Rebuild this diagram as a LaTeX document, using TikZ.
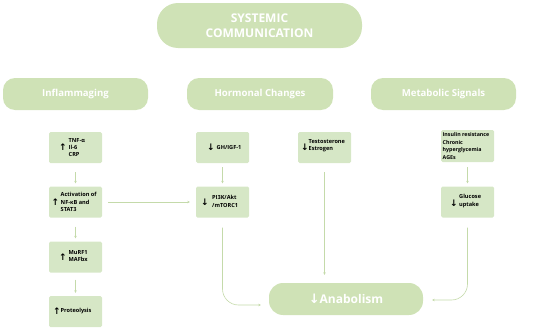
\documentclass[tikz,border=0pt]{standalone}
\usepackage{fontspec}
\setmainfont{Open Sans}
\newfontfamily\arrowfont{DejaVu Sans}
\usetikzlibrary{arrows.meta}
\definecolor{pillgreen}{HTML}{CFE2B6}
\definecolor{boxgreen}{HTML}{D6E7C6}
\definecolor{linegreen}{HTML}{C4DAAA}
\begin{document}
\begin{tikzpicture}[x=1pt,y=-1pt,
  pill/.style={fill=pillgreen, text=white, font=\bfseries, inner sep=0pt},
  sbox/.style={fill=boxgreen, rounded corners=1.5pt, minimum width=53pt, minimum height=31pt, inner sep=0pt},
  stext/.style={anchor=west, align=left, inner sep=0pt, font=\bfseries\fontsize{5.6}{7.4}\selectfont, text=black},
  sarrow/.style={inner sep=0pt, font=\arrowfont\bfseries\fontsize{9}{9}\selectfont, text=black},
  arr/.style={draw=linegreen, line width=0.6pt, -{Stealth[length=2.5pt,width=2.5pt]}}
]
\useasboundingbox (0,0) rectangle (550,332);
% top pill
\node[pill, rounded corners=21pt, minimum width=205pt, minimum height=45pt, align=center, font=\bfseries\fontsize{12}{15}\selectfont] (sys) at (259.5,25.5) {SYSTEMIC\\COMMUNICATION};
% second row
\node[pill, rounded corners=12pt, minimum width=145pt, minimum height=32pt, font=\bfseries\fontsize{9.6}{11}\selectfont] (inf) at (75.5,94) {Inflammaging};
\node[pill, rounded corners=12pt, minimum width=146pt, minimum height=32pt, font=\bfseries\fontsize{9.6}{11}\selectfont] (hor) at (260,94) {Hormonal Changes};
\node[pill, rounded corners=12pt, minimum width=145pt, minimum height=32pt, font=\bfseries\fontsize{9.6}{11}\selectfont] (met) at (443.5,94) {Metabolic Signals};
% boxes
\node[sbox] (tnf) at (75.5,147.5) {};
\node[sbox] (act) at (75.5,202) {};
\node[sbox] (murf) at (75.5,257) {};
\node[sbox] (prot) at (75.5,311.5) {};
\node[sbox] (gh) at (222.5,147.5) {};
\node[sbox] (pi) at (222.5,202) {};
\node[sbox] (tes) at (324.5,147.5) {};
\node[sbox, minimum height=32pt] (ins) at (467.5,146) {};
\node[sbox] (glu) at (467.5,202) {};
% box texts
\node[sarrow] (tnfa) at (63,147.5) {↑};
\node[stext] (tnft) at (68.5,147.5) {TNF-α\\Il-6\\CRP};
\node[sarrow] (acta) at (55.5,202.5) {↑};
\node[stext] (actt) at (60.5,202) {Activation of\\NF-κB and\\STAT3};
\node[sarrow] (murfa) at (63,257.5) {↑};
\node[stext] (murft) at (68.5,256) {MuRF1\\MAFbx};
\node[sarrow] (prota) at (57,311.5) {↑};
\node[stext] (prott) at (60.5,311.5) {Proteolysis};
\node[sarrow] (gha) at (211,147.5) {↓};
\node[stext] (ght) at (216.5,147.5) {GH/IGF-1};
\node[sarrow] (pia) at (205,202.5) {↓};
\node[stext] (pit) at (212,201.5) {PI3K/Akt\\/mTORC1};
\node[sarrow] (tesa) at (305,147.5) {↓};
\node[stext] (test) at (308.5,145.5) {Testosterone\\Estrogen};
\node[stext, font=\bfseries\fontsize{5.3}{7.4}\selectfont] (inst) at (442.5,146) {Insulin resistance\\Chronic\\hyperglycemia\\AGEs};
\node[sarrow] (glua) at (454,203) {↓};
\node[stext] (glut) at (459,201) {Glucose\\uptake};
% anabolism
\node[pill, rounded corners=14pt, minimum width=154pt, minimum height=32pt, font=\bfseries\fontsize{12}{14}\selectfont] (ana) at (346,299) {{\arrowfont\bfseries\fontsize{13}{14}\selectfont ↓}Anabolism};
% connectors
\draw[arr, shorten <=9pt, shorten >=3pt] (tnf) -- (act);
\draw[arr, shorten <=9pt, shorten >=3pt] (act) -- (murf);
\draw[arr, shorten <=7pt, shorten >=3pt] (murf) -- (prot);
\draw[arr, shorten <=4pt, shorten >=3pt] (gh) -- (pi);
\draw[arr, shorten <=5pt, shorten >=3pt] (ins) -- (glu);
\draw[arr, shorten <=6pt, shorten >=6pt] (act) -- (pi);
\draw[arr, shorten <=9pt, shorten >=8pt] (tes.south) -- (tes.south |- ana.north);
\draw[arr, rounded corners=16pt, shorten <=10pt, shorten >=8pt] (pi.south) |- ([yshift=-6pt]ana.west);
\draw[arr, rounded corners=16pt, shorten <=10pt, shorten >=9pt] (glu.south) |- ([yshift=-1pt]ana.east);
\end{tikzpicture}
\end{document}
